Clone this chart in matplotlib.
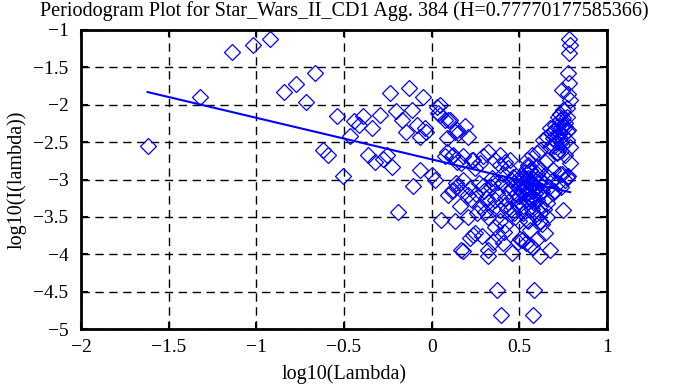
import matplotlib.pyplot as plt

plt.rcParams['font.family'] = ['Liberation Serif', 'DejaVu Serif']

# log10(lambda) / log10(I(lambda)) points
log_lambda = [
    -1.62, -1.32, -1.14, -1.02, -0.92, -0.844, -0.774, -0.718, -0.667, -0.62, -0.59,
    -0.541, -0.507, -0.466, -0.443, -0.412, -0.39, -0.361, -0.342, -0.323, -0.294,
    -0.276, -0.256, -0.237, -0.228, -0.203, -0.19, -0.171, -0.146, -0.127, -0.114,
    -0.104, -0.085, -0.066, -0.066, -0.051, -0.038, -0.032, 0.0, 0.019, 0.029,
    0.038, 0.048, 0.048, 0.052, 0.076, 0.076, 0.086, 0.086, 0.095, 0.095, 0.105,
    0.115, 0.115, 0.124, 0.124, 0.133, 0.133, 0.143, 0.143, 0.143, 0.152, 0.162,
    0.17, 0.17, 0.17, 0.177, 0.181, 0.19, 0.21, 0.21, 0.21, 0.219, 0.229, 0.229,
    0.238, 0.238, 0.248, 0.248, 0.276, 0.276, 0.286, 0.295, 0.295, 0.305, 0.323,
    0.323, 0.323, 0.323, 0.343, 0.352, 0.352, 0.36, 0.36, 0.36, 0.371, 0.38,
    0.38, 0.39, 0.39, 0.39, 0.394, 0.409, 0.41, 0.409, 0.419, 0.419, 0.419,
    0.437, 0.447, 0.457, 0.466, 0.476, 0.495, 0.504, 0.514, 0.54, 0.542, 0.542,
    0.55, 0.552, 0.561, 0.561, 0.561, 0.57, 0.571, 0.577, 0.584, 0.6, 0.6, 0.6,
    0.618, 0.618, 0.618, 0.618, 0.637, 0.647, 0.647, 0.657, 0.657, 0.657, 0.675,
    0.675, 0.675, 0.694, 0.694, 0.704, 0.714, 0.714, 0.714, 0.723, 0.733, 0.733,
    0.742, 0.742, 0.742, 0.751, 0.751, 0.751, 0.761, 0.771, 0.771, 0.771, 0.771,
    0.78, 0.78, 0.78, 0.78, 0.786, 0.786, 0.786, 0.79, 0.79, 0.79, 0.79,
    # dense middle cluster
    0.45, 0.47, 0.49, 0.50, 0.51, 0.52, 0.53, 0.54, 0.55, 0.56, 0.57, 0.58,
    0.59, 0.60, 0.61, 0.62, 0.63, 0.64, 0.65, 0.66, 0.48, 0.50, 0.52, 0.55,
    0.57, 0.53, 0.56, 0.60, 0.44, 0.46, 0.58, 0.62, 0.67, 0.69, 0.70, 0.72,
    0.74, 0.76, 0.64, 0.66,
    0.46, 0.48, 0.50, 0.51, 0.52, 0.53, 0.54, 0.55, 0.56, 0.57, 0.58, 0.59,
    0.60, 0.61, 0.49, 0.51, 0.53, 0.55, 0.57, 0.59,
    # lower-middle group
    0.14, 0.18, 0.22, 0.25, 0.27, 0.30, 0.32, 0.34, 0.37, 0.40, 0.42, 0.43,
    0.26, 0.31, 0.35, 0.39,
    # right arm
    0.70, 0.72, 0.74, 0.73, 0.76, 0.75, 0.69, 0.71, 0.77, 0.74, 0.68, 0.72,
    0.73, 0.75, 0.77, 0.70, 0.74, 0.76,
    # lower right of cluster
    0.60, 0.62, 0.63, 0.58, 0.55, 0.52, 0.50, 0.47, 0.45,
]
log_power = [
    -2.55, -1.89, -1.30, -1.20, -1.12, -1.83, -1.72, -1.96, -1.57, -2.61, -2.67,
    -2.15, -2.95, -2.42, -2.22, -2.27, -2.15, -2.67, -2.31, -2.76, -2.14,
    -2.72, -2.67, -1.84, -2.83, -2.09, -3.43, -2.20, -2.36, -1.78, -2.07,
    -3.09, -2.27, -2.43, -2.87, -1.90, -2.31, -2.36, -2.94, -3.00, -2.03,
    -2.11, -2.14, -2.00, -3.54, -2.69, -2.20, -2.45, -2.63, -2.20, -3.21, -2.20,
    -2.69, -3.16, -2.67, -3.14, -2.36, -3.56, -2.76, -3.09, -2.34, -2.38, -3.36,
    -2.78, -3.14, -3.94, -3.96, -2.69, -2.29, -2.43, -3.21, -3.50, -3.78, -2.74, -3.27,
    -2.74, -3.74, -2.85, -3.72, -3.36, -2.78, -3.76, -2.69, -3.09, -3.43, -2.63,
    -3.50, -3.94, -4.03, -2.98, -3.05, -3.83, -2.74, -3.27, -3.63, -4.48, -3.03,
    -3.76, -2.80, -3.41, -2.67, -4.81, -2.92, -3.70, -3.85, -2.76, -3.34, -3.61,
    -2.85, -2.74, -3.98, -2.96, -3.50, -3.83, -3.79, -3.81, -3.85, -2.74, -3.54,
    -2.80, -2.83, -2.87, -3.67, -3.87, -2.67, -3.90, -4.81, -4.48, -2.83, -2.65, -3.79,
    -2.60, -2.87, -3.45, -4.03, -2.47, -2.76, -3.72, -2.43, -2.74, -3.32, -2.31,
    -2.56, -3.94, -2.87, -3.18, -2.27, -2.43, -2.63, -2.65, -2.16, -2.38, -2.92,
    -1.80, -2.54, -2.92, -2.07, -2.29, -3.41, -2.67, -2.16, -2.47, -2.96, -2.96,
    -1.57, -1.85, -2.34, -2.95, -1.12, -1.31, -1.71, -1.20, -1.94, -2.56, -2.78,
    # dense middle cluster
    -3.00, -3.05, -3.10, -2.98, -3.15, -3.05, -3.20, -3.00, -3.10, -3.25, -3.05, -3.15,
    -2.95, -3.10, -3.20, -3.00, -3.15, -3.05, -3.25, -2.95, -3.20, -3.30, -3.35, -3.30,
    -3.40, -2.90, -2.88, -2.92, -3.15, -3.25, -3.30, -3.35, -3.10, -3.00, -3.15, -3.05,
    -3.10, -3.00, -3.40, -3.50,
    -3.12, -2.95, -3.22, -3.08, -2.97, -3.12, -3.28, -3.18, -3.02, -3.22, -3.08, -3.18,
    -3.28, -3.05, -3.35, -3.02, -3.10, -2.98, -3.28, -3.12,
    # lower-middle group
    -3.05, -3.00, -3.12, -3.20, -3.05, -3.15, -3.30, -3.10, -3.18, -3.05, -3.25, -3.40,
    -3.45, -3.25, -3.40, -3.55,
    # right arm
    -2.35, -2.40, -2.30, -2.20, -2.25, -2.40, -2.45, -2.50, -2.35, -2.50, -2.38, -2.28,
    -2.12, -2.18, -2.05, -2.55, -2.62, -2.30,
    # lower right of cluster
    -3.50, -3.55, -3.60, -3.45, -3.55, -3.45, -3.55, -3.45, -3.40,
]

# least-squares fit line, slope = 1 - 2H
fit_x = [-1.62, 0.79]
fit_y = [-1.83, -3.17]

fig = plt.figure(figsize=(6.87, 3.85), dpi=100)
ax = fig.add_axes([81 / 687, 1 - 329 / 385, 526 / 687, 299 / 385])

ax.plot(log_lambda, log_power, linestyle='none', marker='D', markersize=7.8,
        markerfacecolor='none', markeredgecolor='#0000ff', markeredgewidth=0.9)
ax.plot(fit_x, fit_y, color='#0000ff', linewidth=1.5)

ax.set_xlim(-2, 1)
ax.set_ylim(-5, -1)
ax.set_xticks([-2, -1.5, -1, -0.5, 0, 0.5, 1])
ax.set_xticklabels(['\u22122', '\u22121.5', '\u22121', '\u22120.5', '0', '0.5', '1'])
ax.set_yticks([-5, -4.5, -4, -3.5, -3, -2.5, -2, -1.5, -1])
ax.set_yticklabels(['\u22125', '\u22124.5', '\u22124', '\u22123.5', '\u22123',
                    '\u22122.5', '\u22122', '\u22121.5', '\u22121'])
ax.grid(True, color='black', linestyle=(0, (6, 4)), linewidth=1)
ax.tick_params(direction='in', length=5, width=1.5, top=True, right=True, labelsize=14)
ax.tick_params(axis='y', pad=9)
ax.tick_params(axis='x', pad=7)
for s in ax.spines.values():
    s.set_linewidth(2)

fig.text(344 / 687, 1 - 11 / 385, 'Periodogram Plot for Star_Wars_II_CD1 Agg. 384 (H=0.77770177585366)',
         ha='center', va='center', fontsize=14.5)
fig.text(344 / 687, 1 - 374 / 385, 'log10(Lambda)', ha='center', va='center', fontsize=14.5)
fig.text(17 / 687, 1 - 180 / 385, 'log10(I(lambda))', ha='center', va='center',
         rotation=90, fontsize=14.5)

fig.savefig('out.png', dpi=100)
